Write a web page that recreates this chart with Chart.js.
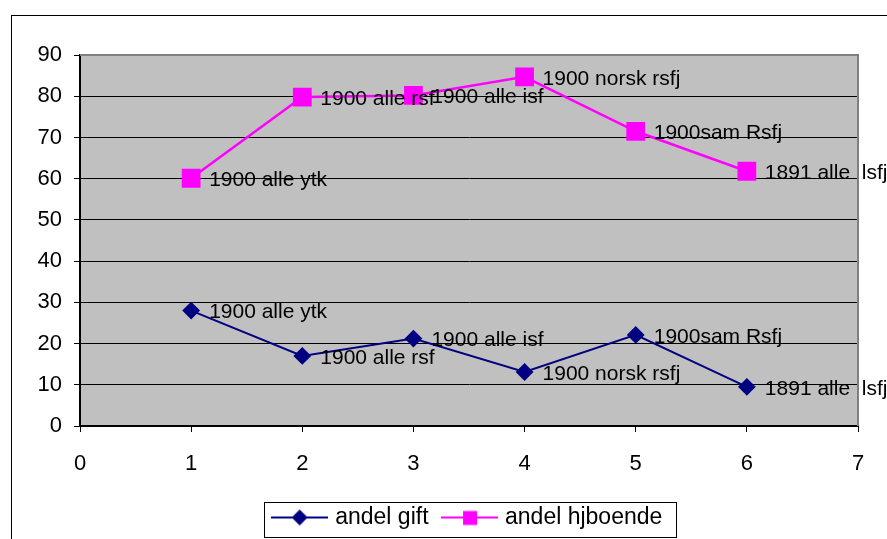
<!DOCTYPE html>
<html>
<head>
<meta charset="utf-8">
<script src="https://cdn.jsdelivr.net/npm/chart.js@4.4.1/dist/chart.umd.min.js"></script>
<style>
  html, body { margin: 0; padding: 0; background: #fff; }
  #wrap { width: 887px; height: 539px; }
</style>
</head>
<body>
<div id="wrap"><canvas id="myChart"></canvas></div>
<script>
// donnees
const xValues = [1, 2, 3, 4, 5, 6];
const pointLabels = ['1900 alle ytk', '1900 alle rsf', '1900 alle isf', '1900 norsk rsfj', '1900sam Rsfj', '1891 alle  lsfj'];
const andelGift = [28, 17, 21.2, 13.1, 22.1, 9.5];
const andelHjboende = [60.1, 79.8, 80.2, 84.7, 71.5, 61.8];
const seriesNames = ['andel gift', 'andel hjboende'];

const FONT = "'Liberation Sans', Arial, sans-serif";

function toPoints(values) {
    return values.map((v, i) => ({x: xValues[i], y: v}));
}

// petite image pour la legende (ligne + marqueur)
function legendImage(color, style) {
    const c = document.createElement('canvas');
    c.width = 57; c.height = 18;
    const g = c.getContext('2d');
    g.strokeStyle = color;
    g.lineWidth = 2;
    g.beginPath(); g.moveTo(0, 9); g.lineTo(57, 9); g.stroke();
    g.fillStyle = color;
    if (style === 'diamond') {
        g.beginPath(); g.moveTo(28.5, 1); g.lineTo(36.5, 9); g.lineTo(28.5, 17); g.lineTo(20.5, 9); g.closePath(); g.fill();
    } else {
        g.fillRect(22, 2.5, 14, 14);
    }
    return c;
}

const decorPlugin = {
    id: 'decor',
    beforeDraw(chart) {
        const {ctx, chartArea: a} = chart;
        ctx.save();
        // cadre exterieur
        ctx.strokeStyle = '#000';
        ctx.lineWidth = 1;
        ctx.strokeRect(11.5, 15.5, 1000, 1000);
        // fond gris de la zone de trace
        ctx.fillStyle = '#c0c0c0';
        ctx.fillRect(a.left, a.top, a.right - a.left, a.bottom - a.top);
        ctx.restore();
    },
    afterDatasetsDraw(chart) {
        const {ctx} = chart;
        ctx.save();
        ctx.font = '21px ' + FONT;
        ctx.fillStyle = '#000';
        ctx.textBaseline = 'middle';
        chart.data.datasets.forEach((ds, di) => {
            chart.getDatasetMeta(di).data.forEach((pt, i) => {
                ctx.fillText(pointLabels[i], pt.x + 18, pt.y + 2);
            });
        });
        ctx.restore();
    },
    afterDraw(chart) {
        const {ctx, chartArea: a} = chart;
        ctx.save();
        // bord gris haut et droite
        ctx.strokeStyle = '#808080';
        ctx.lineWidth = 2;
        ctx.beginPath();
        ctx.moveTo(a.left, a.top);
        ctx.lineTo(a.right, a.top);
        ctx.lineTo(a.right, a.bottom);
        ctx.stroke();
        // cadre de la legende
        const boxes = chart.legend.legendHitBoxes;
        if (boxes && boxes.length) {
            const l = Math.min(...boxes.map(b => b.left)) - 12;
            const r = Math.max(...boxes.map(b => b.left + b.width)) + 13;
            const cy = boxes[0].top + boxes[0].height / 2;
            ctx.strokeStyle = '#000';
            ctx.lineWidth = 1;
            ctx.strokeRect(Math.round(l) + 0.5, Math.round(cy - 16) + 0.5, Math.round(r - l), 35);
        }
        ctx.restore();
    }
};

const ctx = document.getElementById('myChart').getContext('2d');
const myChart = new Chart(ctx, {
    type: 'line',
    data: {
        datasets: [
            {
                label: seriesNames[0],
                data: toPoints(andelGift),
                borderColor: '#000080',
                backgroundColor: '#000080',
                borderWidth: 2,
                pointStyle: 'rectRot',
                pointRadius: 7.5,
                pointHoverRadius: 7.5,
                tension: 0
            },
            {
                label: seriesNames[1],
                data: toPoints(andelHjboende),
                borderColor: '#ff00ff',
                backgroundColor: '#ff00ff',
                borderWidth: 2.5,
                pointStyle: 'rect',
                pointRadius: 11.5,
                pointHoverRadius: 11.5,
                tension: 0
            }
        ]
    },
    options: {
        responsive: true,
        maintainAspectRatio: false,
        animation: false,
        layout: {padding: {left: 12, top: 55, right: 29, bottom: 0}},
        scales: {
            x: {
                type: 'linear',
                min: 0, max: 7,
                ticks: {stepSize: 1, color: '#000', font: {family: FONT, size: 22}, padding: 19},
                grid: {drawOnChartArea: false, drawTicks: true, tickLength: 6, color: '#000'},
                border: {color: '#000', width: 2},
                afterFit(scale) { scale.height = 63; }
            },
            y: {
                min: 0, max: 90,
                ticks: {stepSize: 10, color: '#000', font: {family: FONT, size: 22}, padding: 12},
                grid: {color: '#000', lineWidth: 1, tickLength: 6},
                border: {color: '#000', width: 2},
                afterFit(scale) { scale.width = 68; }
            }
        },
        plugins: {
            legend: {
                position: 'bottom',
                fullSize: false,
                labels: {
                    usePointStyle: true,
                    pointStyleWidth: 48,
                    color: '#000',
                    font: {family: FONT, size: 23},
                    padding: 17,
                    generateLabels(chart) {
                        return chart.data.datasets.map((ds, i) => ({
                            text: ds.label,
                            pointStyle: legendImage(ds.borderColor, i === 0 ? 'diamond' : 'square'),
                            fillStyle: ds.borderColor,
                            strokeStyle: ds.borderColor,
                            lineWidth: 0,
                            hidden: false,
                            datasetIndex: i
                        }));
                    }
                }
            },
            tooltip: {enabled: false}
        }
    },
    plugins: [decorPlugin]
});
</script>
</body>
</html>
